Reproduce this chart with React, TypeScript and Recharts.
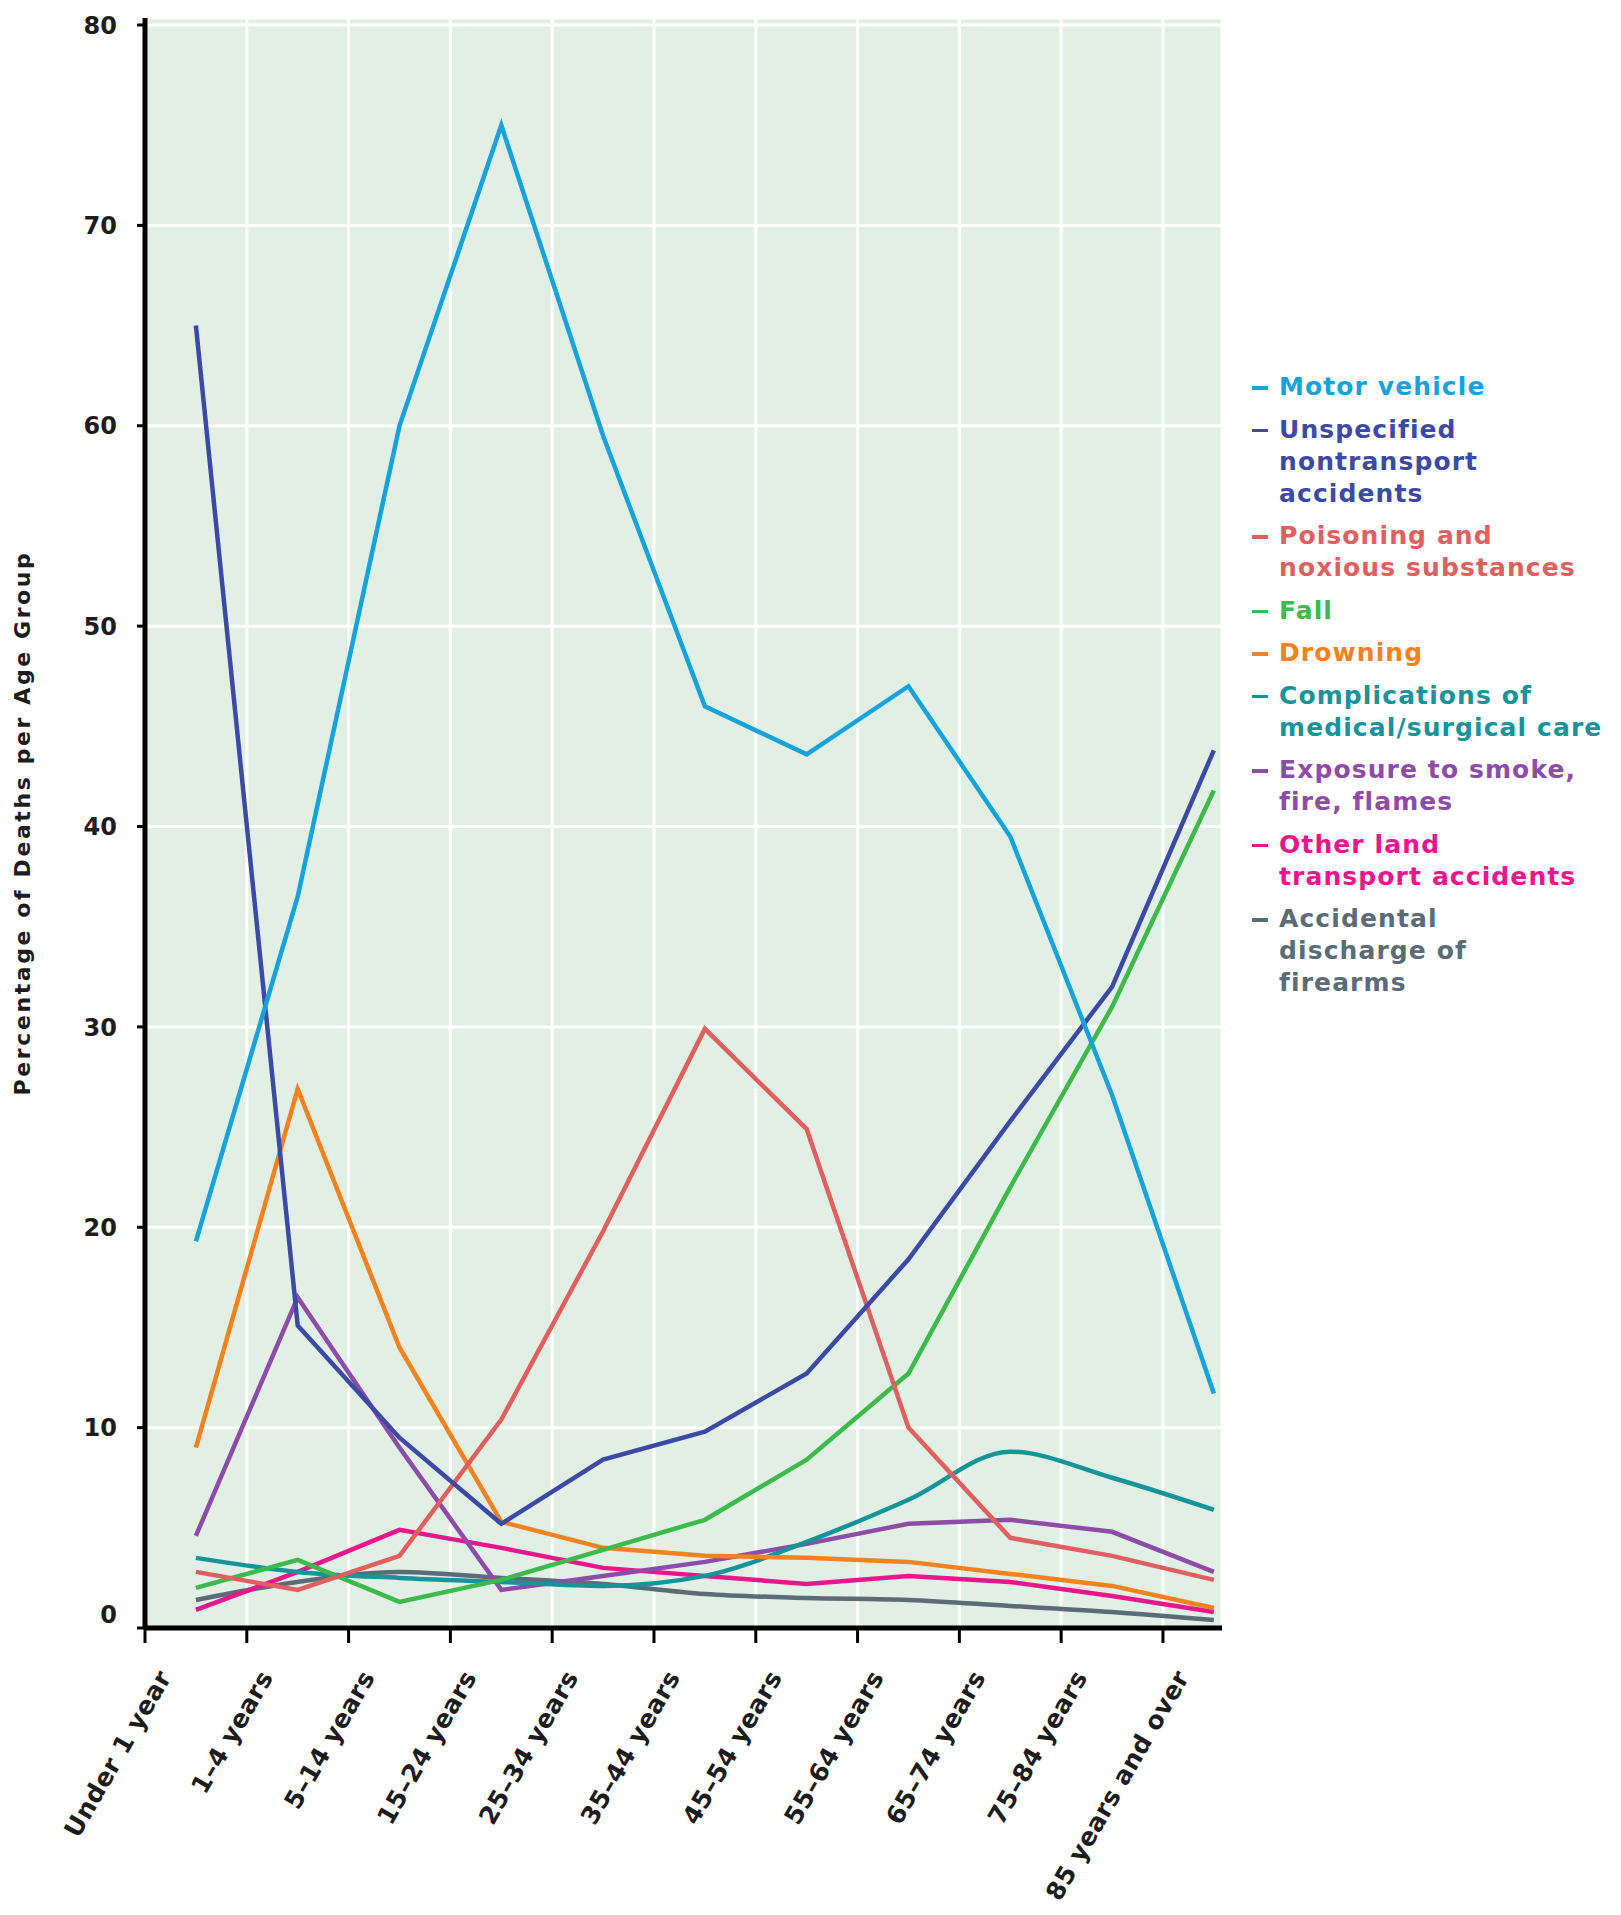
import React from 'react';
import { LineChart, Line, XAxis, YAxis, CartesianGrid, Label } from 'recharts';

const FONT = '"DejaVu Sans", Verdana, sans-serif';

// age groups along the x axis
const ageGroups = [
  'Under 1 year',
  '1–4 years',
  '5–14 years',
  '15–24 years',
  '25–34 years',
  '35–44 years',
  '45–54 years',
  '55–64 years',
  '65–74 years',
  '75–84 years',
  '85 years and over',
];

const yTicks = [0, 10, 20, 30, 40, 50, 60, 70, 80];

// percentage of deaths per age group, one list per cause
const motorVehicle = [19.3, 36.5, 60, 75, 59.5, 46, 43.6, 47, 39.5, 26.6, 11.7];
const unspecified = [65, 15.1, 9.5, 5.2, 8.4, 9.8, 12.7, 18.4, 25.3, 32, 43.8];
const poisoning = [2.8, 1.9, 3.6, 10.4, 19.8, 29.9, 24.9, 10, 4.5, 3.6, 2.4];
const fall = [2.0, 3.4, 1.3, 2.4, 3.9, 5.4, 8.4, 12.7, 22, 31, 41.8];
const drowning = [9.0, 26.9, 14, 5.3, 4.0, 3.6, 3.5, 3.3, 2.7, 2.1, 1.0];
const complications = [3.5, 2.8, 2.5, 2.3, 2.1, 2.6, 4.3, 6.4, 8.8, 7.5, 5.9];
const smokeFire = [4.6, 16.5, 9.0, 1.9, 2.6, 3.3, 4.2, 5.2, 5.4, 4.8, 2.8];
const otherLand = [0.9, 2.8, 4.9, 4.0, 3.0, 2.6, 2.2, 2.6, 2.3, 1.6, 0.8];
const firearms = [1.4, 2.3, 2.8, 2.5, 2.2, 1.7, 1.5, 1.4, 1.1, 0.8, 0.4];

const series = [
  { key: 'motorVehicle', values: motorVehicle, color: '#16a3dc', lines: ['Motor vehicle'] },
  { key: 'unspecified', values: unspecified, color: '#3c4aa5', lines: ['Unspecified', 'nontransport', 'accidents'] },
  { key: 'poisoning', values: poisoning, color: '#e0605f', lines: ['Poisoning and', 'noxious substances'] },
  { key: 'fall', values: fall, color: '#3dba4b', lines: ['Fall'] },
  { key: 'drowning', values: drowning, color: '#f5821f', lines: ['Drowning'] },
  { key: 'complications', values: complications, color: '#17939a', lines: ['Complications of', 'medical/surgical care'] },
  { key: 'smokeFire', values: smokeFire, color: '#8d4ca8', lines: ['Exposure to smoke,', 'fire, flames'] },
  { key: 'otherLand', values: otherLand, color: '#ec168c', lines: ['Other land', 'transport accidents'] },
  { key: 'firearms', values: firearms, color: '#5b6c76', lines: ['Accidental', 'discharge of', 'firearms'] },
];

// points sit in the middle of each age band, ticks on the band edges
const data = ageGroups.map((group, i) => {
  const row: Record<string, number | string> = { group, x: i + 0.5 };
  series.forEach((s) => {
    row[s.key] = s.values[i];
  });
  return row;
});

const XTick = ({ x, y, payload }: any) => (
  <g transform={`translate(${x + 27},${y + 32})`}>
    <text
      textAnchor="end"
      transform="rotate(-60)"
      fontFamily={FONT}
      fontWeight="bold"
      fontSize={25}
      letterSpacing={0.4}
      fill="#1c1c1c"
    >
      {ageGroups[payload.value]}
    </text>
  </g>
);

const YTick = ({ x, y, payload }: any) => (
  <text
    x={x}
    y={payload.value === 0 ? y - 14 : y}
    dy="0.36em"
    textAnchor="end"
    fontFamily={FONT}
    fontWeight="bold"
    fontSize={24}
    fill="#1c1c1c"
  >
    {payload.value}
  </text>
);

const YTitle = ({ viewBox }: any) => (
  <text
    transform={`translate(22,${viewBox.y + viewBox.height / 2}) rotate(-90)`}
    textAnchor="middle"
    dy="0.35em"
    fontFamily={FONT}
    fontWeight="bold"
    fontSize={22}
    letterSpacing={2.6}
    fill="#1c1c1c"
  >
    Percentage of Deaths per Age Group
  </text>
);

function SideLegend() {
  return (
    <div style={{ position: 'absolute', left: 1252, top: 371, fontFamily: FONT, fontWeight: 'bold', fontSize: 25, lineHeight: '32px', letterSpacing: 1.1 }}>
      {series.map((s) => (
        <div key={s.key} style={{ display: 'flex', color: s.color, marginBottom: 10.5, whiteSpace: 'nowrap' }}>
          <span style={{ display: 'inline-block', width: 16, height: 3.5, marginTop: 15, marginRight: 11, background: s.color }} />
          <div>
            {s.lines.map((l) => (
              <div key={l}>{l}</div>
            ))}
          </div>
        </div>
      ))}
    </div>
  );
}

export default function App() {
  return (
    <div style={{ position: 'absolute', left: 0, top: 0, width: 1621, height: 1915, background: '#fff' }}>
      <LineChart width={1621} height={1915} data={data} margin={{ top: 18, right: 399, left: 0, bottom: 0 }}>
        <CartesianGrid fill="#e2efe4" fillOpacity={1} stroke="#ffffff" strokeWidth={3} />
        <XAxis
          dataKey="x"
          type="number"
          domain={[0, 10.58]}
          ticks={ageGroups.map((_, i) => i)}
          interval={0}
          height={287}
          tick={<XTick />}
          tickSize={15}
          tickLine={{ stroke: '#000', strokeWidth: 3 }}
          axisLine={{ stroke: '#000', strokeWidth: 5 }}
        />
        <YAxis
          type="number"
          domain={[0, 80.35]}
          ticks={yTicks}
          interval={0}
          width={145}
          tick={<YTick />}
          tickSize={8}
          tickMargin={20}
          tickLine={{ stroke: '#000', strokeWidth: 3 }}
          axisLine={{ stroke: '#000', strokeWidth: 5 }}
        >
          <Label content={<YTitle />} />
        </YAxis>
        {[...series].reverse().map((s) => (
          <Line
            key={s.key}
            dataKey={s.key}
            type={s.key === 'complications' || s.key === 'firearms' ? 'monotone' : 'linear'}
            stroke={s.color}
            strokeWidth={4.5}
            dot={false}
            activeDot={false}
            isAnimationActive={false}
          />
        ))}
      </LineChart>
      <SideLegend />
    </div>
  );
}
